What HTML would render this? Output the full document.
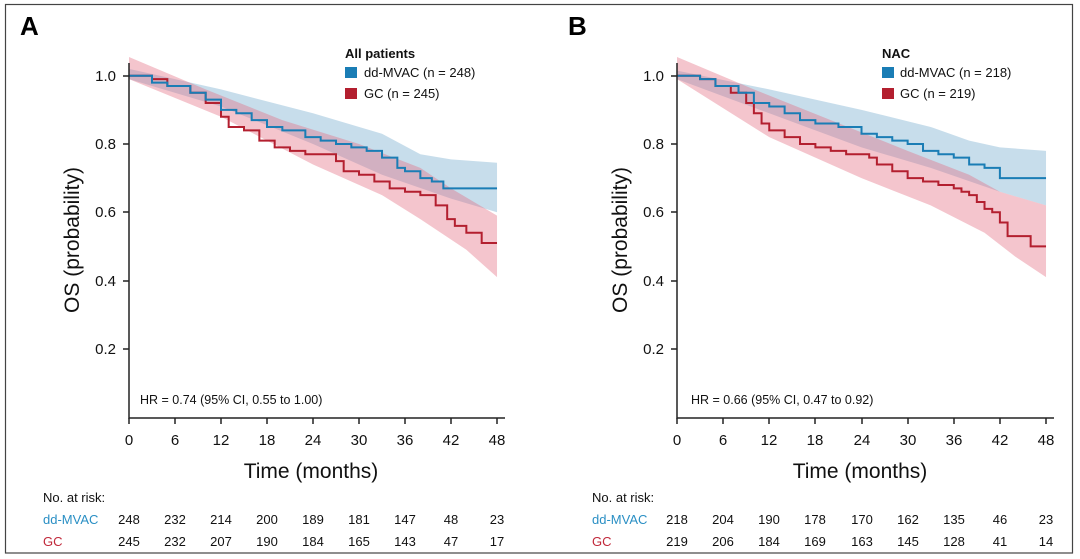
<!DOCTYPE html>
<html><head><meta charset="utf-8"><style>
body{margin:0;background:#fff}
svg{display:block;font-family:"Liberation Sans",Arial,sans-serif}
</style></head><body>
<svg width="1080" height="559" viewBox="0 0 1080 559">
<rect x="5.5" y="4.5" width="1067" height="548.5" fill="none" stroke="#444" stroke-width="1.2"/>

<!-- Panel A -->
<text x="20" y="35" font-size="26" font-weight="bold">A</text>
<g transform="translate(129,417) scale(7.667,-341.25)">
<polygon fill="rgb(130,180,210)" fill-opacity="0.45" points="0,1.02 12,0.96 24,0.89 33,0.83 38,0.77 42,0.755 48,0.745 48,0.60 42,0.64 33,0.71 24,0.80 12,0.91 0,0.99"/>
<polygon fill="rgb(228,110,130)" fill-opacity="0.4" points="0,1.055 10,0.96 20,0.87 30,0.80 38,0.73 42,0.67 48,0.59 48,0.41 44,0.49 38,0.58 33,0.65 24,0.74 12,0.88 0,0.99"/>
<path vector-effect="non-scaling-stroke" fill="none" stroke="#b31f2f" stroke-width="2" d="M0,1 H3 V0.99 H5 V0.97 H8 V0.95 H10 V0.92 H12 V0.88 H13 V0.85 H15 V0.84 H17 V0.81 H19 V0.79 H21 V0.78 H23 V0.77 H27 V0.75 H28 V0.72 H30 V0.71 H32 V0.69 H34 V0.67 H36 V0.66 H38 V0.65 H40 V0.62 H41.5 V0.58 H42.5 V0.56 H44 V0.54 H46 V0.51 H48"/>
<path vector-effect="non-scaling-stroke" fill="none" stroke="#1a7db5" stroke-width="2" d="M0,1 H3 V0.98 H5 V0.97 H8 V0.95 H10 V0.93 H12 V0.90 H14 V0.89 H16 V0.87 H18 V0.85 H20 V0.84 H23 V0.82 H25 V0.81 H27 V0.80 H29 V0.79 H31 V0.78 H33 V0.76 H35 V0.73 H36 V0.72 H38 V0.70 H39.5 V0.69 H41 V0.67 H48"/>
</g>
<g stroke="#222" stroke-width="1.5" fill="none">
<path d="M129,63 V418 H505"/>
<path d="M123,76 H129 M123,144 H129 M123,212 H129 M123,281 H129 M123,349 H129"/>
<path d="M129,418 v6 M175,418 v6 M221,418 v6 M267,418 v6 M313,418 v6 M359,418 v6 M405,418 v6 M451,418 v6 M497,418 v6"/>
</g>
<g font-size="15" fill="#111">
<g text-anchor="end"><text x="116" y="81">1.0</text><text x="116" y="149">0.8</text><text x="116" y="217">0.6</text><text x="116" y="286">0.4</text><text x="116" y="354">0.2</text></g>
<g text-anchor="middle"><text x="129" y="445">0</text><text x="175" y="445">6</text><text x="221" y="445">12</text><text x="267" y="445">18</text><text x="313" y="445">24</text><text x="359" y="445">30</text><text x="405" y="445">36</text><text x="451" y="445">42</text><text x="497" y="445">48</text></g>
</g>
<text x="311" y="478" font-size="21" text-anchor="middle" fill="#111">Time (months)</text>
<text transform="translate(79,240) rotate(-90)" font-size="21" text-anchor="middle" fill="#111">OS (probability)</text>
<text x="140" y="404" font-size="12.5" fill="#111">HR = 0.74 (95% CI, 0.55 to 1.00)</text>
<text x="345" y="58" font-size="13" font-weight="bold" fill="#111">All patients</text>
<rect x="345" y="67" width="12" height="11" fill="#1a7db5"/><text x="364" y="77" font-size="13" fill="#111">dd-MVAC (n = 248)</text>
<rect x="345" y="88" width="12" height="11" fill="#b31f2f"/><text x="364" y="98" font-size="13" fill="#111">GC (n = 245)</text>
<g font-size="13" fill="#111">
<text x="43" y="502">No. at risk:</text>
<text x="43" y="524" fill="#2a8fc4">dd-MVAC</text><text x="43" y="546" fill="#c0283a">GC</text>
<g text-anchor="middle">
<text x="129" y="524">248</text><text x="175" y="524">232</text><text x="221" y="524">214</text><text x="267" y="524">200</text><text x="313" y="524">189</text><text x="359" y="524">181</text><text x="405" y="524">147</text><text x="451" y="524">48</text><text x="497" y="524">23</text>
<text x="129" y="546">245</text><text x="175" y="546">232</text><text x="221" y="546">207</text><text x="267" y="546">190</text><text x="313" y="546">184</text><text x="359" y="546">165</text><text x="405" y="546">143</text><text x="451" y="546">47</text><text x="497" y="546">17</text>
</g></g>

<!-- Panel B -->
<text x="568" y="35" font-size="26" font-weight="bold">B</text>
<g transform="translate(677,417) scale(7.688,-341.25)">
<polygon fill="rgb(130,180,210)" fill-opacity="0.45" points="0,1.015 12,0.96 24,0.90 33,0.85 38,0.81 42,0.79 48,0.78 48,0.62 42,0.66 33,0.73 24,0.79 12,0.89 0,0.99"/>
<polygon fill="rgb(228,110,130)" fill-opacity="0.4" points="0,1.055 10,0.96 20,0.87 30,0.78 38,0.71 42,0.66 48,0.62 48,0.41 44,0.47 40,0.54 33,0.62 24,0.70 12,0.82 0,0.99"/>
<path vector-effect="non-scaling-stroke" fill="none" stroke="#b31f2f" stroke-width="2" d="M0,1 H3 V0.99 H5 V0.97 H7 V0.95 H9 V0.92 H10 V0.89 H11 V0.86 H12 V0.84 H14 V0.82 H16 V0.80 H18 V0.79 H20 V0.78 H22 V0.77 H25 V0.76 H26 V0.74 H28 V0.72 H30 V0.70 H32 V0.69 H34 V0.68 H36 V0.67 H37 V0.66 H38 V0.65 H39 V0.63 H40 V0.61 H41 V0.60 H42 V0.57 H43 V0.53 H46 V0.50 H48"/>
<path vector-effect="non-scaling-stroke" fill="none" stroke="#1a7db5" stroke-width="2" d="M0,1 H3 V0.99 H5 V0.97 H8 V0.95 H10 V0.92 H12 V0.91 H14 V0.89 H16 V0.87 H18 V0.86 H21 V0.85 H24 V0.83 H26 V0.82 H28 V0.81 H30 V0.80 H32 V0.78 H34 V0.77 H36 V0.76 H38 V0.74 H40 V0.73 H42 V0.70 H48"/>
</g>
<g stroke="#222" stroke-width="1.5" fill="none">
<path d="M677,63 V418 H1054"/>
<path d="M671,76 H677 M671,144 H677 M671,212 H677 M671,281 H677 M671,349 H677"/>
<path d="M677,418 v6 M723,418 v6 M769,418 v6 M815,418 v6 M862,418 v6 M908,418 v6 M954,418 v6 M1000,418 v6 M1046,418 v6"/>
</g>
<g font-size="15" fill="#111">
<g text-anchor="end"><text x="664" y="81">1.0</text><text x="664" y="149">0.8</text><text x="664" y="217">0.6</text><text x="664" y="286">0.4</text><text x="664" y="354">0.2</text></g>
<g text-anchor="middle"><text x="677" y="445">0</text><text x="723" y="445">6</text><text x="769" y="445">12</text><text x="815" y="445">18</text><text x="862" y="445">24</text><text x="908" y="445">30</text><text x="954" y="445">36</text><text x="1000" y="445">42</text><text x="1046" y="445">48</text></g>
</g>
<text x="860" y="478" font-size="21" text-anchor="middle" fill="#111">Time (months)</text>
<text transform="translate(627,240) rotate(-90)" font-size="21" text-anchor="middle" fill="#111">OS (probability)</text>
<text x="691" y="404" font-size="12.5" fill="#111">HR = 0.66 (95% CI, 0.47 to 0.92)</text>
<text x="882" y="58" font-size="13" font-weight="bold" fill="#111">NAC</text>
<rect x="882" y="67" width="12" height="11" fill="#1a7db5"/><text x="900" y="77" font-size="13" fill="#111">dd-MVAC (n = 218)</text>
<rect x="882" y="88" width="12" height="11" fill="#b31f2f"/><text x="900" y="98" font-size="13" fill="#111">GC (n = 219)</text>
<g font-size="13" fill="#111">
<text x="592" y="502">No. at risk:</text>
<text x="592" y="524" fill="#2a8fc4">dd-MVAC</text><text x="592" y="546" fill="#c0283a">GC</text>
<g text-anchor="middle">
<text x="677" y="524">218</text><text x="723" y="524">204</text><text x="769" y="524">190</text><text x="815" y="524">178</text><text x="862" y="524">170</text><text x="908" y="524">162</text><text x="954" y="524">135</text><text x="1000" y="524">46</text><text x="1046" y="524">23</text>
<text x="677" y="546">219</text><text x="723" y="546">206</text><text x="769" y="546">184</text><text x="815" y="546">169</text><text x="862" y="546">163</text><text x="908" y="546">145</text><text x="954" y="546">128</text><text x="1000" y="546">41</text><text x="1046" y="546">14</text>
</g></g>
</svg>
</body></html>
